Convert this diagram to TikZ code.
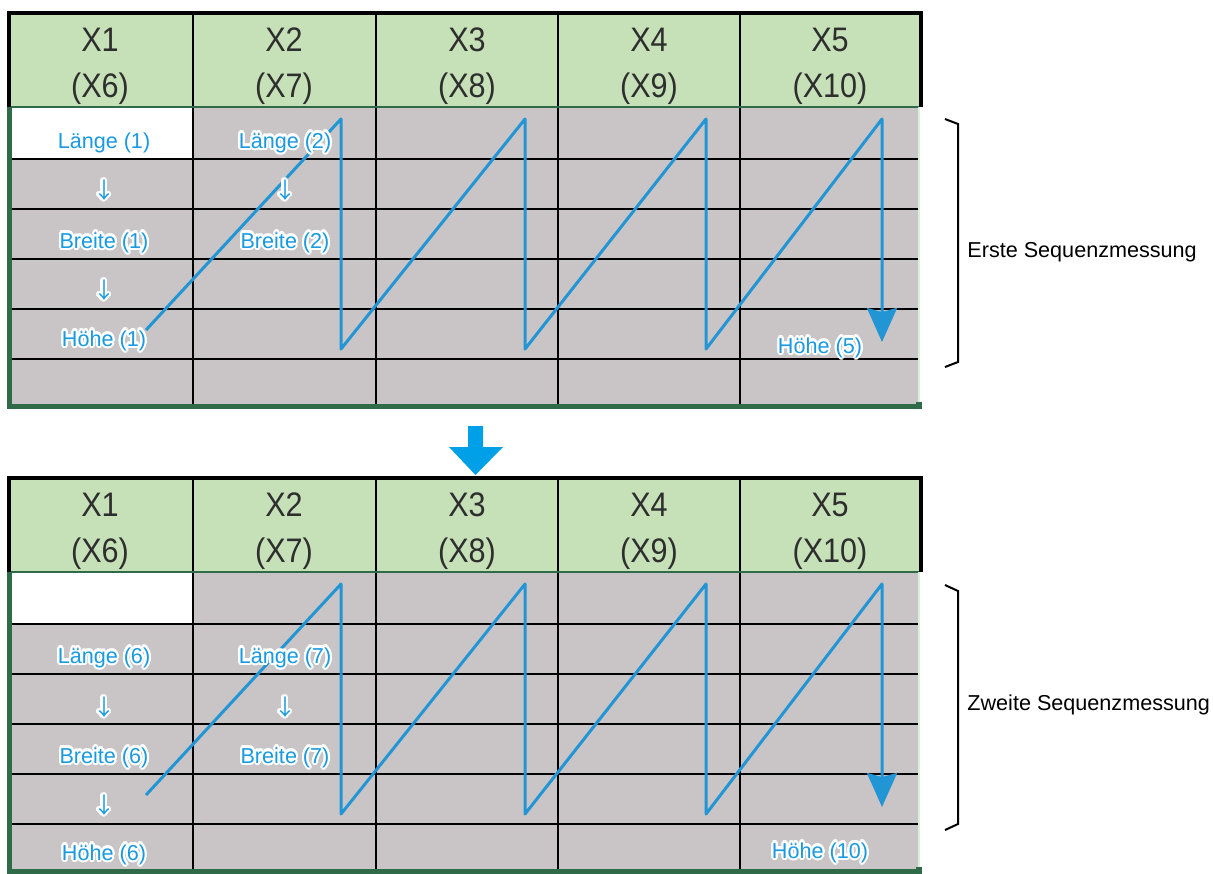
\documentclass[tikz,border=0pt]{standalone}
\usepackage{fontspec}
\setmainfont{Liberation Sans}
\newfontfamily\kopffont[FakeStretch=0.9]{Liberation Sans}
\newfontfamily\pfeilfont{Noto Sans CJK SC}
\usepackage[copies]{contour}
\contourlength{1.1pt}
\usetikzlibrary{arrows.meta}
\definecolor{kopfgruen}{HTML}{C6E0B8}
\definecolor{zellgrau}{HTML}{C9C5C7}
\definecolor{randgruen}{HTML}{2F6B48}
\definecolor{hellgruen}{HTML}{D8F0DC}
\definecolor{linienblau}{HTML}{2295D5}
\definecolor{textblau}{HTML}{1A9AE0}
\definecolor{pfeilblau}{HTML}{00A0E9}
\tikzset{
  kopf/.style={font=\kopffont\fontsize{17}{20}\selectfont, text=black!82, anchor=base, inner sep=0pt},
  wert/.style={font=\fontsize{10.8}{13}\selectfont, text=textblau, anchor=base, inner sep=0pt},
  runter/.style={font=\pfeilfont\fontsize{11}{13}\selectfont, text=textblau, inner sep=0pt},
  gitter/.style={black, line width=1.1pt},
  pfad/.style={linienblau, line width=1.5pt, line join=round},
  klammer/.style={black, line width=1pt},
}
% table: #1 = top edge, #2 = prefix of the names
\newcommand{\messtabelle}[2]{%
  \begin{scope}[shift={(0,#1)}]
    % cells
    \fill[kopfgruen] (7,0) rectangle (921,96);
    \fill[zellgrau] (7,96) rectangle (919,394);
    \fill[white] (9,96) rectangle (193,148);
    % grid
    \foreach \y in {148,198,248,298,348}
      \draw[gitter] (9,\y) -- (918,\y);
    \foreach \x in {193,376,558,740}
      \draw[gitter] (\x,0) -- (\x,394);
    % borders
    \draw[randgruen, line width=1pt] (9,96) -- (920,96);
    \draw[black, line width=2pt] (9,96) -- (9,2) -- (921,2) -- (921,96);
    \draw[randgruen, line width=2.5pt] (9,96) -- (9,395) -- (917,395);
    \draw[hellgruen, line width=1pt] (919,96) -- (919,394);
    \fill[randgruen] (916,391) rectangle (922,398);
    % column heads
    \foreach \x [count=\k, evaluate=\k as \kk using int(\k+5)] in {100,284,467,649,830} {
      \node[kopf] (#2x\k) at (\x,40) {X\k};
      \node[kopf] (#2xx\k) at (\x,86) {(X\kk)};
    }
    % zigzag
    \coordinate (#2s) at (146,319);
    \foreach \x [count=\k] in {341,525,706,882} {
      \coordinate (#2o\k) at (\x,108);
      \coordinate (#2u\k) at (\x,338);
    }
    \coordinate (#2e) at (882,331);
    \draw[pfad, -{Stealth[length=17pt, width=15pt, inset=2pt]}]
      (#2s) -- (#2o1) -- (#2u1) -- (#2o2) -- (#2u2) -- (#2o3) -- (#2u3) -- (#2o4) -- (#2e);
  \end{scope}
}

\begin{document}
\begin{tikzpicture}[x=0.5pt, y=-0.5pt]
  \useasboundingbox (0,0) rectangle (1213,873);

  % first sequence
  \messtabelle{11}{a}
  \node[wert] (laenge1) at (104,148) {\contour{white}{Länge (1)}};
  \node[runter] (ra1) at (104,191) {\contour{white}{↓}};
  \node[wert] (breite1) at (104,248) {\contour{white}{Breite (1)}};
  \node[runter] (ra2) at (104,291) {\contour{white}{↓}};
  \node[wert] (hoehe1) at (104,346) {\contour{white}{Höhe (1)}};
  \node[wert] (laenge2) at (285,148) {\contour{white}{Länge (2)}};
  \node[runter] (ra3) at (285,191) {\contour{white}{↓}};
  \node[wert] (breite2) at (285,248) {\contour{white}{Breite (2)}};
  \node[wert] (hoehe5) at (820,353) {\contour{white}{Höhe (5)}};

  % block arrow between the tables
  \fill[pfeilblau] (468,426) -- (483,426) -- (483,447) -- (503,447)
    -- (475.5,475) -- (449,447) -- (468,447) -- cycle;

  % second sequence
  \messtabelle{476}{b}
  \node[wert] (laenge6) at (104,663) {\contour{white}{Länge (6)}};
  \node[runter] (rb1) at (104,708) {\contour{white}{↓}};
  \node[wert] (breite6) at (104,763) {\contour{white}{Breite (6)}};
  \node[runter] (rb2) at (104,806) {\contour{white}{↓}};
  \node[wert] (hoehe6) at (104,860) {\contour{white}{Höhe (6)}};
  \node[wert] (laenge7) at (285,663) {\contour{white}{Länge (7)}};
  \node[runter] (rb3) at (285,708) {\contour{white}{↓}};
  \node[wert] (breite7) at (285,763) {\contour{white}{Breite (7)}};
  \node[wert] (hoehe10) at (820,858) {\contour{white}{Höhe (10)}};

  % brackets
  \draw[klammer] (945,119) -- (958,124) -- (958,362) -- (945,367);
  \node[anchor=west, inner sep=0pt, font=\fontsize{10.8}{13}\selectfont] (erste) at (967,252) {Erste Sequenzmessung};
  \draw[klammer] (945,585) -- (958,591) -- (958,824) -- (945,830);
  \node[anchor=west, inner sep=0pt, font=\fontsize{10.8}{13}\selectfont] (zweite) at (967,705) {Zweite Sequenzmessung};
\end{tikzpicture}
\end{document}
